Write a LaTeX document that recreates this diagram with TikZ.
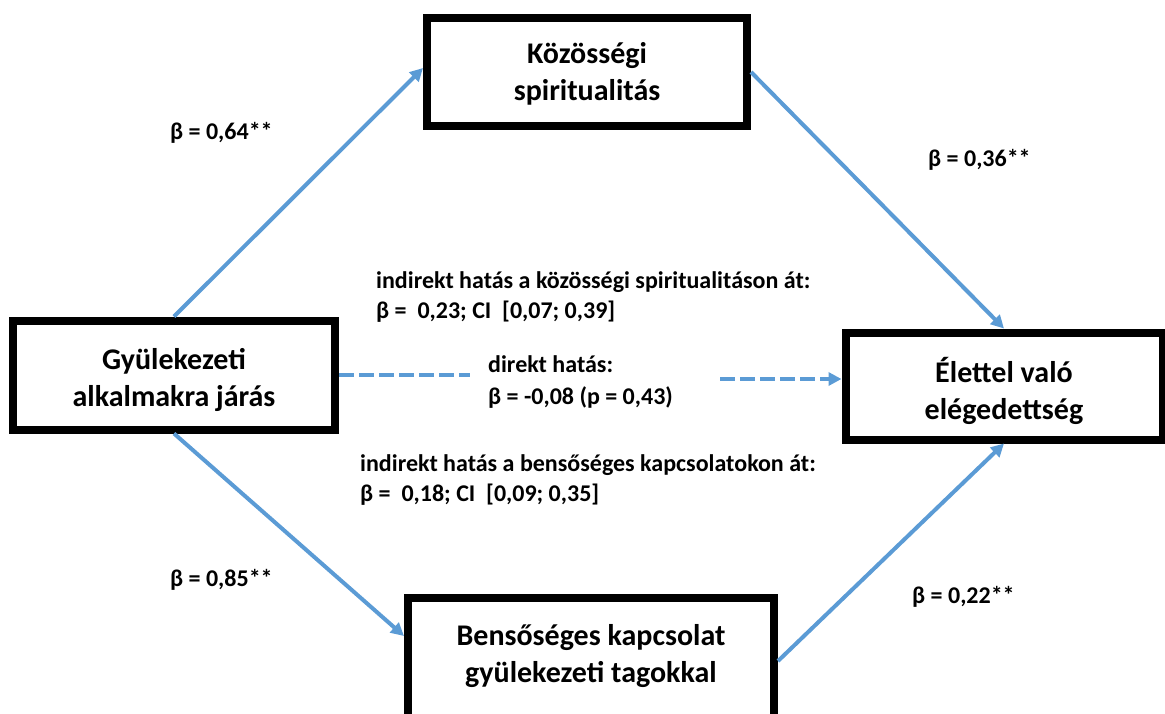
\documentclass[tikz,border=0pt]{standalone}
\usepackage{fontspec}
\setmainfont{Carlito}
\usetikzlibrary{arrows.meta}
\definecolor{arrowblue}{HTML}{5B9BD5}
\newcommand{\boxtext}[2]{\raisebox{#1}[0pt][0pt]{\begin{tabular}{@{}c@{}}#2\end{tabular}}}
\begin{document}
\begin{tikzpicture}[x=1pt, y=-1pt, >={Triangle[length=13pt,width=13pt]},
  box/.style={draw, line width=8pt, align=center, inner sep=0pt,
    font=\fontsize{30}{37}\selectfont\bfseries},
  lbl/.style={anchor=west, align=left, inner sep=0pt,
    font=\fontsize{24}{30}\selectfont\bfseries},
  path/.style={arrowblue, line width=4pt}]
  \useasboundingbox (0,0) rectangle (1165,713);
  \clip (0,0) rectangle (1165,713);

  \node[box, minimum width=320pt, minimum height=108pt] (koz) at (587,72) {\boxtext{-9pt}{Közösségi\\spiritualitás}};
  \node[box, minimum width=322pt, minimum height=109pt] (gyul) at (174,375) {\boxtext{-12pt}{Gyülekezeti\\alkalmakra járás}};
  \node[box, minimum width=317pt, minimum height=107pt] (elet) at (1004,386) {\boxtext{-14pt}{Élettel való\\elégedettség}};
  \node[box, minimum width=366pt, minimum height=128pt] (bens) at (591,662) {\boxtext{-1pt}{Bensőséges kapcsolat\\gyülekezeti tagokkal}};

  \coordinate (dL) at (470,375);
  \coordinate (dR) at (720,379);

  \draw[path, ->] (gyul.north) -- ([yshift=4pt]koz.west);
  \draw[path, ->] (koz.east) -- (elet.north);
  \draw[path, ->] (gyul.south) -- ([yshift=26pt]bens.west);
  \draw[path, ->] ([yshift=1pt]bens.east) -- (elet.south);
  \draw[path, dash pattern=on 15pt off 5pt] (gyul.east) -- (dL);
  \draw[path, dash pattern=on 15pt off 5pt, ->] (dR) -- ([yshift=7pt]elet.west);

  \node[lbl] (b64) at (170,133) {β = 0,64**};
  \node[lbl] (b36) at (928,160) {β = 0,36**};
  \node[lbl] (b85) at (170,580) {β = 0,85**};
  \node[lbl] (b22) at (912,597) {β = 0,22**};
  \node[lbl] (indk) at (376,297) {indirekt hatás a közösségi spiritualitáson át:\\β =\ \ 0,23; CI\ \ [0,07; 0,39]};
  \node[lbl, font=\fontsize{24}{32}\selectfont\bfseries] (dir) at (488,382) {direkt hatás:\\β = -0,08 (p = 0,43)};
  \node[lbl] (indb) at (360,480) {indirekt hatás a bensőséges kapcsolatokon át:\\β =\ \ 0,18; CI\ \ [0,09; 0,35]};
\end{tikzpicture}
\end{document}
